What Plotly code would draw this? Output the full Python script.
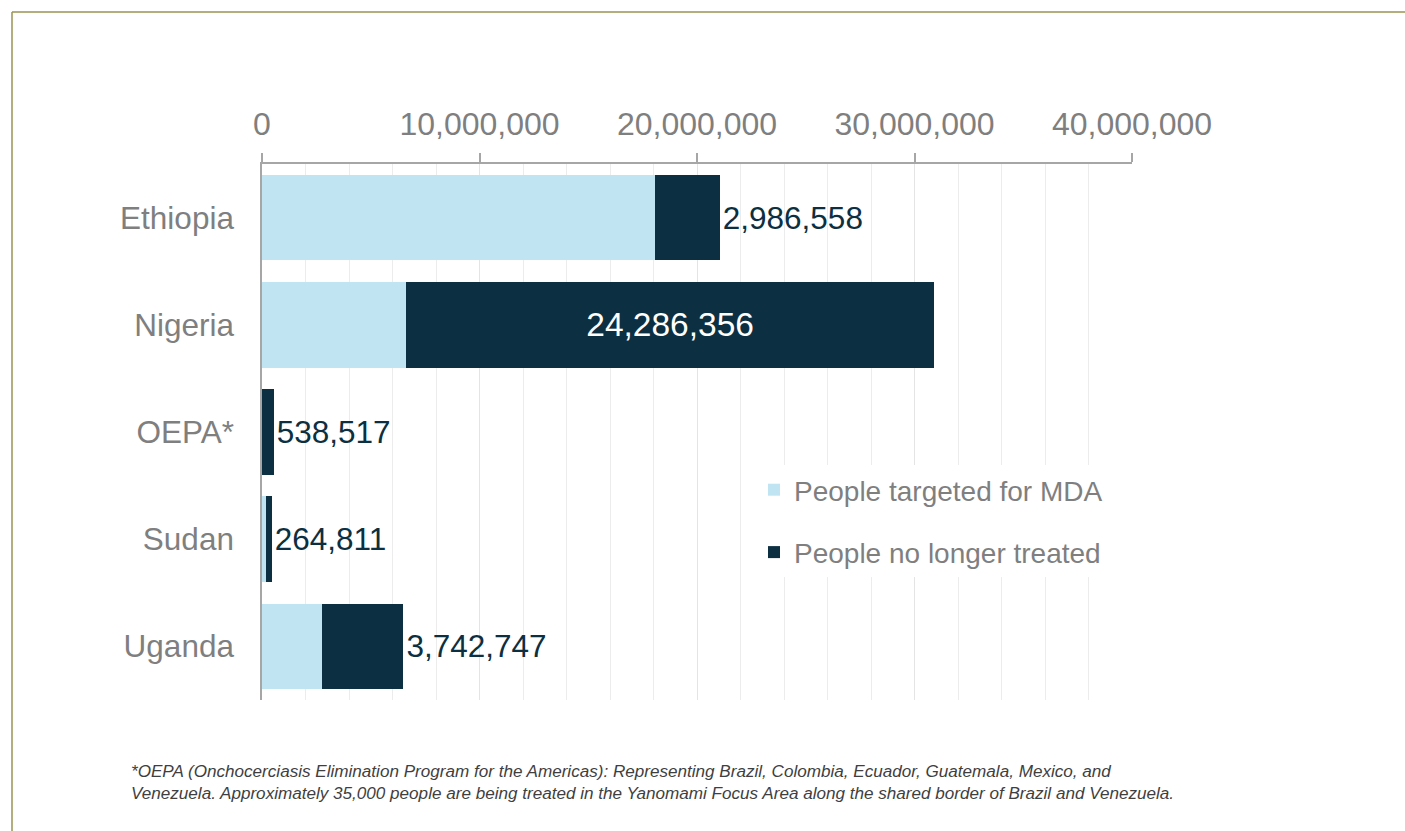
import plotly.graph_objects as go

countries = ["Ethiopia", "Nigeria", "OEPA*", "Sudan", "Uganda"]
targeted = [18060000, 6620000, 0, 180000, 2760000]
no_longer = [2986558, 24286356, 538517, 264811, 3742747]
no_longer_labels = ["2,986,558", "24,286,356", "538,517", "264,811", "3,742,747"]
x_ticks = [0, 10000000, 20000000, 30000000, 40000000]
x_tick_labels = ["0", "10,000,000", "20,000,000", "30,000,000", "40,000,000"]
footnote = ("*OEPA (Onchocerciasis Elimination Program for the Americas): Representing Brazil, Colombia, Ecuador, Guatemala, Mexico, and<br>"
            "Venezuela. Approximately 35,000 people are being treated in the Yanomami Focus Area along the shared border of Brazil and Venezuela.")

LIGHT = "#c1e4f3"
DARK = "#0c2f42"
GREY = "#7f7f7f"
FONT = "Liberation Sans, Arial, sans-serif"

W, H = 1405, 831
L, R, T, B = 262, 1405 - 1132, 164, 831 - 700
pw, ph = W - L - R, H - T - B

def px_to_paper_x(px):
    return (px - L) / pw

def px_to_paper_y(py):
    return (H - B - py) / ph

fig = go.Figure()
fig.add_trace(go.Bar(
    y=countries, x=targeted, orientation="h", name="People targeted for MDA",
    marker=dict(color=LIGHT, line=dict(width=0)), legendgroup="a", hoverinfo="x+y",
))
positions = ["inside" if c == "Nigeria" else "outside" for c in countries]
fig.add_trace(go.Bar(
    y=countries, x=no_longer, orientation="h", name="People no longer treated",
    marker=dict(color=DARK, line=dict(width=0)), legendgroup="b",
    text=no_longer_labels, textposition=positions, insidetextanchor="middle",
    textangle=0, constraintext="none", cliponaxis=False,
    insidetextfont=dict(color="white", size=33.5, family=FONT),
    outsidetextfont=dict(color=DARK, size=31.5, family=FONT),
))

fig.update_layout(
    width=W, height=H, barmode="stack", bargap=0.2,
    paper_bgcolor="white", plot_bgcolor="white",
    margin=dict(l=L, r=R, t=T, b=B, autoexpand=False),
    font=dict(family=FONT, color=GREY),
    showlegend=True,
    legend=dict(
        x=px_to_paper_x(754), y=px_to_paper_y(465), xanchor="left", yanchor="top",
        bgcolor="white", borderwidth=0, traceorder="grouped", tracegroupgap=23,
        font=dict(size=28, color=GREY, family=FONT),
    ),
    xaxis=dict(
        side="top", range=[0, 40000000], tickvals=x_ticks, ticktext=x_tick_labels,
        tickfont=dict(size=32, color=GREY, family=FONT),
        ticks="outside", ticklen=9, tickcolor="#a6a6a6", tickwidth=1.5,
        showline=True, linecolor="#a6a6a6", linewidth=1.5,
        showgrid=True, gridcolor="#e4e4e4", gridwidth=1,
        minor=dict(dtick=2000000, showgrid=True, gridcolor="#ececec", gridwidth=1, ticks=""),
        zeroline=False, ticklabelstandoff=5, fixedrange=True,
    ),
    yaxis=dict(
        autorange="reversed", categoryorder="array", categoryarray=countries,
        tickfont=dict(size=31.5, color=GREY, family=FONT),
        showline=True, linecolor="#a6a6a6", linewidth=1.5, ticks="",
        showgrid=False, zeroline=False, ticklabelstandoff=20, fixedrange=True,
    ),
    shapes=[
        dict(type="line", xref="paper", yref="paper",
             x0=px_to_paper_x(12), x1=px_to_paper_x(1405),
             y0=px_to_paper_y(12), y1=px_to_paper_y(12),
             line=dict(color="#9a9350", width=1.5), layer="above"),
        dict(type="line", xref="paper", yref="paper",
             x0=px_to_paper_x(12), x1=px_to_paper_x(12),
             y0=px_to_paper_y(12), y1=px_to_paper_y(831),
             line=dict(color="#9a9350", width=1.5), layer="above"),
    ],
    annotations=[
        dict(text=footnote, xref="paper", yref="paper", showarrow=False,
             x=px_to_paper_x(129), y=px_to_paper_y(760), xanchor="left", yanchor="top",
             align="left", font=dict(size=17.1, color="#3f3f3f", family=FONT, style="italic"),
             ),
    ],
)

fig.write_html("out.html")
